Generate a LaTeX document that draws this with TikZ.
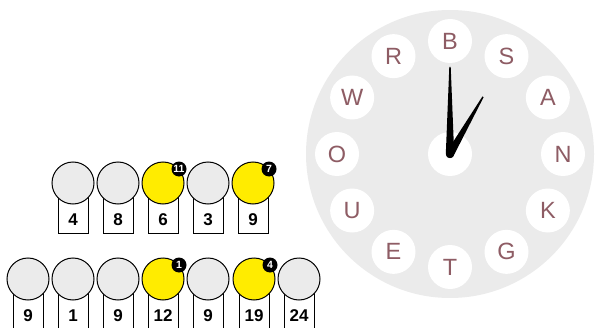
\documentclass[tikz,border=0pt]{standalone}
\usepackage{fontspec}
\setmainfont{Liberation Sans}
\usetikzlibrary{calc}
\definecolor{dialgray}{RGB}{235,235,235}
\definecolor{tokenyellow}{RGB}{255,236,0}
\definecolor{lettercol}{RGB}{142,92,100}

%% one slot: box, number and circle on top
\newcommand{\slotcell}[5]{%
  \node[slotbox] (#1-box) at (#2,#3) {};
  \node[slotnum] (#1-num) at (#2,#3-37) {#4};
  \node[token, fill=#5] (#1) at (#2,#3) {};
}
%% small black counter on a yellow circle
\newcommand{\badge}[2]{%
  \node[badgedot] (#1-badge) at ([shift={(16,14)}]#1.center) {#2};
}

\begin{document}
\begin{tikzpicture}[x=1pt,y=1pt,
  token/.style={circle, draw=black, line width=1pt, minimum size=42pt, inner sep=0pt},
  slotbox/.style={draw=black, fill=white, line width=0.7pt, minimum width=30pt, minimum height=50pt, anchor=north, inner sep=0pt},
  slotnum/.style={font=\fontsize{17}{17}\selectfont\bfseries, inner sep=0pt},
  badgedot/.style={circle, fill=black, text=white, minimum size=15pt, inner sep=0pt, font=\fontsize{10.5}{10.5}\selectfont\bfseries},
  letterdot/.style={circle, fill=white, minimum size=44pt, inner sep=0pt, text=lettercol, font=\fontsize{23.5}{23.5}\selectfont}]
\useasboundingbox (0,0) rectangle (596,327);

%% the dial
\node[circle, fill=dialgray, minimum size=288pt, inner sep=0pt] (dial) at (450,173) {};
\node[circle, fill=white, minimum size=44pt, inner sep=0pt] (hub) at (dial.center) {};
\foreach \l [count=\i from 0] in {B,S,A,N,K,G,T,E,U,O,W,R}
  \node[letterdot] (letter-\l) at ($(dial.center)+(90-30*\i:113)$) {\l};

%% hands
\begin{scope}[shift={(hub.center)}]
  \fill (-4.2,0) -- (-0.7,87) -- (0.7,87) -- (4.2,0) arc (0:-180:4.2) -- cycle;
  \fill[rotate=-30] (-4,0) -- (-0.7,66) -- (0.7,66) -- (4,0) arc (0:-180:4) -- cycle;
\end{scope}

%% upper row
\slotcell{ta}{73}{144}{4}{dialgray}
\slotcell{tb}{118}{144}{8}{dialgray}
\slotcell{tc}{163}{144}{6}{tokenyellow}
\slotcell{td}{208}{144}{3}{dialgray}
\slotcell{te}{253}{144}{9}{tokenyellow}
\badge{tc}{11}
\badge{te}{7}

%% lower row
\slotcell{ba}{28}{48}{9}{dialgray}
\slotcell{bb}{73}{48}{1}{dialgray}
\slotcell{bc}{118}{48}{9}{dialgray}
\slotcell{bd}{163}{48}{12}{tokenyellow}
\slotcell{be}{208}{48}{9}{dialgray}
\slotcell{bf}{254}{48}{19}{tokenyellow}
\slotcell{bg}{299}{48}{24}{dialgray}
\badge{bd}{1}
\badge{bf}{4}
\end{tikzpicture}
\end{document}
